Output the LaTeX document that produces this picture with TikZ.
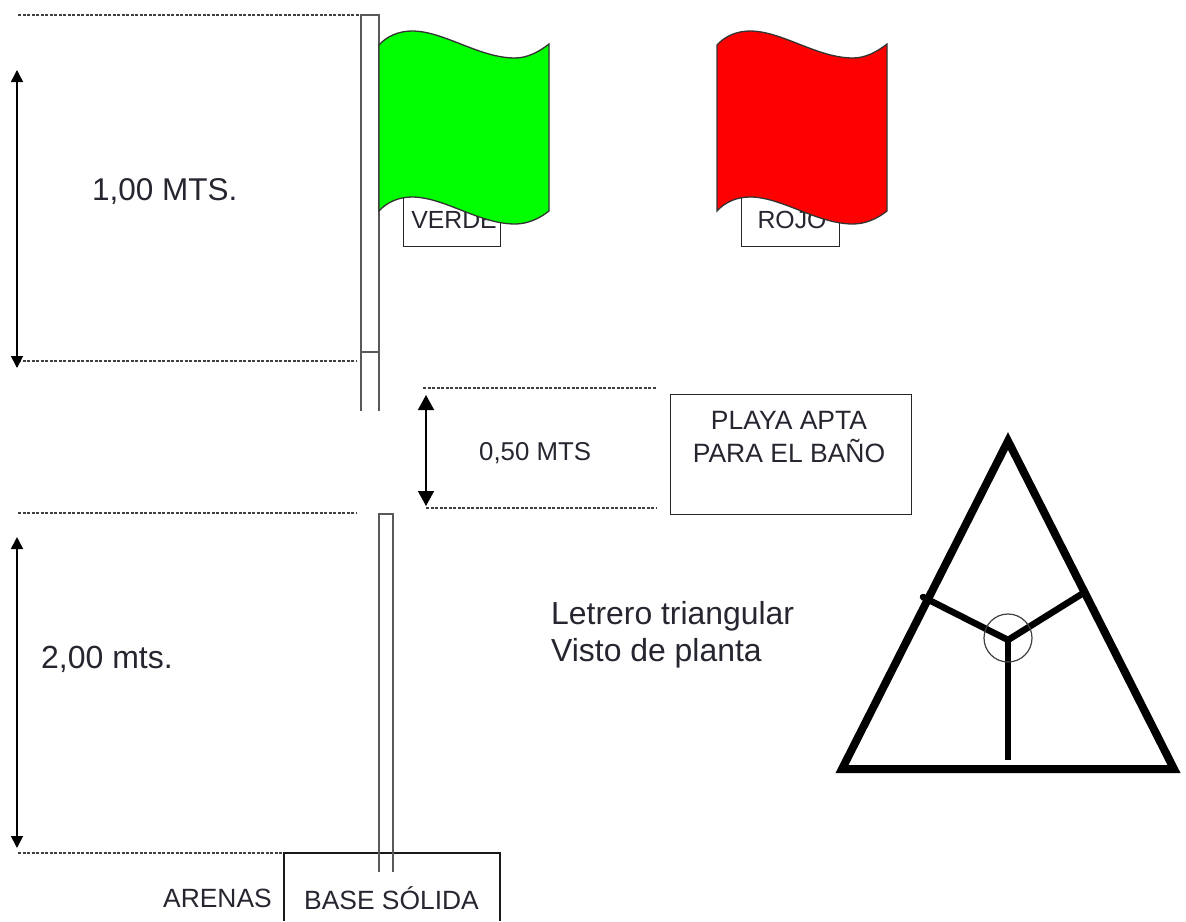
\documentclass[tikz,border=0pt]{standalone}
\usepackage{fontspec}
\setmainfont{Liberation Sans}
\usetikzlibrary{arrows.meta}
\definecolor{txt}{HTML}{262630}
\tikzset{
  dim/.style={line width=1.5pt,{Triangle[length=12pt,width=12pt]}-{Triangle[length=12pt,width=12pt]}},
  dimbig/.style={line width=1.5pt,{Triangle[length=15pt,width=16pt]}-{Triangle[length=15pt,width=16pt]}},
  guide/.style={line width=1.4pt,dash pattern=on 3.2pt off 1.3pt,black!75},
  pole/.style={line width=1.5pt,black!65},
  thin box/.style={draw=black!85,line width=1.3pt,fill=white},
  label/.style={text=txt,inner sep=0pt,align=center},
  thick bar/.style={line width=8pt,line cap=butt},
  spoke/.style={line width=6.5pt},
  flag/.style={draw=black!80,line width=1.3pt}
}
\newcommand{\flagshape}[2]{%
  \begin{scope}[xshift=#1pt]
  \draw[flag,fill=#2] (0,45) .. controls (8,36) and (20,31) .. (33,31)
    .. controls (65,31) and (100,58) .. (136,58)
    .. controls (148,58) and (160,52) .. (170,44)
    -- (170,211) .. controls (160,219) and (148,224) .. (136,224)
    .. controls (100,224) and (65,197) .. (33,197)
    .. controls (20,197) and (8,202) .. (0,211) -- cycle;
  \end{scope}}
\begin{document}
\begin{tikzpicture}[x=1pt,y=-1pt]
\useasboundingbox (0,0) rectangle (1186,921);
\fill[white] (0,0) rectangle (1186,921);

% guides
\coordinate (g1a) at (18,15); \coordinate (g1b) at (360,15);
\coordinate (g2a) at (18,361); \coordinate (g2b) at (357,361);
\coordinate (g3a) at (423,388); \coordinate (g3b) at (656,388);
\coordinate (g4a) at (426,508); \coordinate (g4b) at (656,508);
\coordinate (g5a) at (18,513); \coordinate (g5b) at (357,513);
\coordinate (g6a) at (18,853); \coordinate (g6b) at (348,853);
\foreach \a/\b in {g1a/g1b,g2a/g2b,g3a/g3b,g4a/g4b,g5a/g5b,g6a/g6b} \draw[guide] (\a) -- (\b);

% dimension arrows
\coordinate (d1a) at (17,70); \coordinate (d1b) at (17,368);
\coordinate (d2a) at (426,395); \coordinate (d2b) at (426,506);
\coordinate (d3a) at (17,537); \coordinate (d3b) at (17,848);
\draw[dim] (d1a) -- (d1b);
\draw[dimbig] (d2a) -- (d2b);
\draw[dim] (d3a) -- (d3b);

% base
\draw[draw=black!90,line width=1.3pt] (284,921) -- (284,853) -- (500,853) -- (500,921);

% poles
\draw[pole] (361,411) -- (361,15) -- (379,15) -- (379,411);
\draw[pole] (361,352) -- (379,352);
\draw[pole] (379,872) -- (379,514) -- (393,514) -- (393,872);

% label boxes and flags
\node[thin box,minimum width=97pt,minimum height=52pt,anchor=north west,inner sep=0pt] (lv) at (403,194) {};
\node[thin box,minimum width=98pt,minimum height=52pt,anchor=north west,inner sep=0pt] (lr) at (741,194) {};
\node[label,font=\fontsize{24.8}{28}\selectfont] (tv) at (454,220) {VERDE};
\node[label,font=\fontsize{24.8}{28}\selectfont] (tr) at (792,220) {ROJO};
\flagshape{379}{green}
\flagshape{717}{red}

% sign box
\node[thin box,minimum width=241pt,minimum height=120pt,anchor=north west,inner sep=0pt] (sign) at (670,394) {};
\node[label,font=\fontsize{26.5}{33}\selectfont] (signt) at (789,437) {PLAYA APTA\\PARA EL BAÑO};

% text
\node[label,font=\fontsize{31.5}{36}\selectfont,anchor=west] (t1) at (92,192) {1,00 MTS.};
\node[label,font=\fontsize{25.8}{30}\selectfont,anchor=west] (t2) at (479,453) {0,50 MTS};
\node[label,font=\fontsize{32}{36}\selectfont,anchor=west] (t3) at (41,659) {2,00 mts.};
\node[label,font=\fontsize{31.9}{37}\selectfont,align=left,anchor=west] (t4) at (551,635) {Letrero triangular\\Visto de planta};
\node[label,font=\fontsize{26.4}{30}\selectfont,anchor=west] (t5) at (163,898) {ARENAS};
\node[label,font=\fontsize{26.4}{30}\selectfont,anchor=west] (t6) at (304,898) {BASE SÓLIDA};

% triangle
\coordinate (ta) at (1008,441);
\coordinate (tl) at (842,769);
\coordinate (tr2) at (1174,769);
\coordinate (tc) at (1008,640);
\coordinate (sl) at (923,597);
\coordinate (sr) at (1085,592);
\coordinate (sb) at (1008,760);
\draw[thick bar,line join=miter] (ta) -- (tl) -- (tr2) -- cycle;
\draw[spoke,line cap=round] (sl) -- (tc) -- (sr);
\draw[spoke] (tc) -- (sb);
\draw[line width=1.2pt,black!75] (tc) ++(0,-2) circle (24);
\end{tikzpicture}
\end{document}
